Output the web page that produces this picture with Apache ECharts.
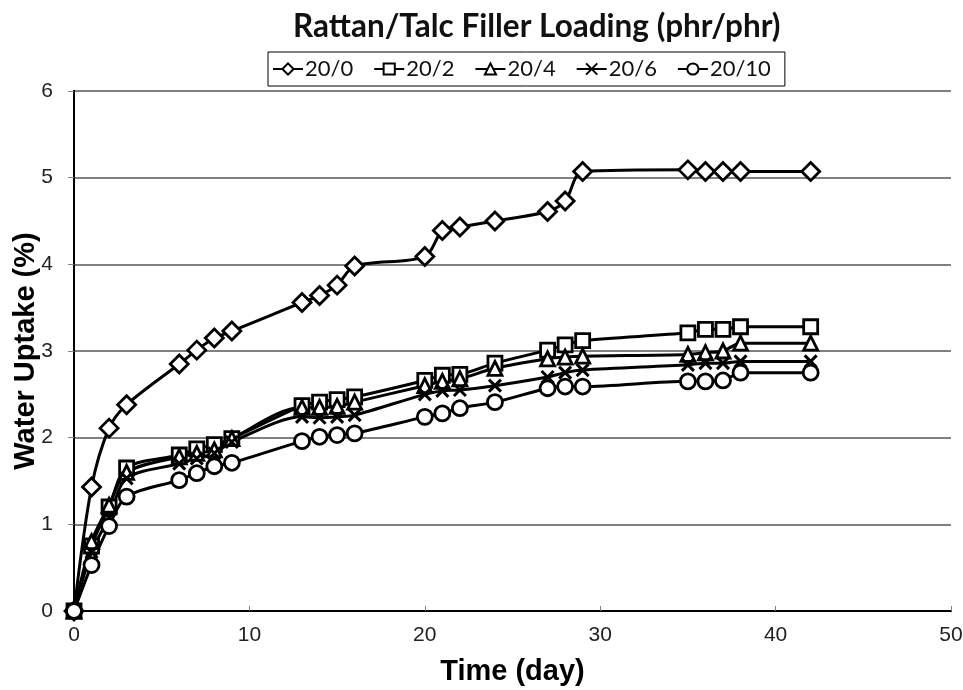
<!DOCTYPE html>
<html>
<head>
<meta charset="utf-8">
<title>Water uptake</title>
<script src="https://cdn.jsdelivr.net/npm/echarts@6/dist/echarts.min.js"></script>
<style>
  html, body { margin: 0; padding: 0; background: #fff; }
  #chart { width: 963px; height: 690px; }
</style>
</head>
<body>
<div id="chart"></div>
<script>
// time in days
const days = [0, 1, 2, 3, 6, 7, 8, 9, 13, 14, 15, 16, 20, 21, 22, 24, 27, 28, 29, 35, 36, 37, 38, 42]

// water uptake (%) for each rattan/talc loading
const load20_0 = [0, 1.43, 2.11, 2.38, 2.85, 3.01, 3.15, 3.23, 3.56, 3.64, 3.76, 3.98, 4.09, 4.39, 4.43, 4.50, 4.61, 4.73, 5.07, 5.09, 5.07, 5.07, 5.07, 5.07]
const load20_2 = [0, 0.75, 1.20, 1.65, 1.80, 1.87, 1.92, 1.99, 2.37, 2.41, 2.44, 2.47, 2.66, 2.72, 2.73, 2.86, 3.01, 3.07, 3.12, 3.21, 3.25, 3.25, 3.28, 3.28]
const load20_4 = [0, 0.80, 1.22, 1.60, 1.78, 1.82, 1.86, 1.99, 2.35, 2.35, 2.36, 2.41, 2.60, 2.65, 2.68, 2.80, 2.91, 2.93, 2.94, 2.96, 2.98, 3.00, 3.09, 3.09]
const load20_6 = [0, 0.68, 1.08, 1.53, 1.70, 1.76, 1.82, 1.95, 2.24, 2.23, 2.24, 2.26, 2.50, 2.54, 2.55, 2.60, 2.70, 2.75, 2.78, 2.84, 2.86, 2.86, 2.88, 2.88]
const load20_10 = [0, 0.53, 0.98, 1.32, 1.51, 1.59, 1.67, 1.71, 1.96, 2.01, 2.03, 2.05, 2.24, 2.28, 2.34, 2.41, 2.57, 2.59, 2.59, 2.65, 2.65, 2.66, 2.75, 2.75]

const seriesNames = ['20/0', '20/2', '20/4', '20/6', '20/10']
const seriesValues = [load20_0, load20_2, load20_4, load20_6, load20_10]

const xTicks = [0, 10, 20, 30, 40, 50]
const yTicks = [0, 1, 2, 3, 4, 5, 6]

// marker per series
const crossPath = 'path://M0,0L10,10M10,0L0,10'
const markers = [
  { symbol: 'diamond', size: 18 },
  { symbol: 'rect', size: 14 },
  { symbol: 'triangle', size: 14 },
  { symbol: crossPath, size: 12 },
  { symbol: 'circle', size: 15 }
]

const tickFont = "'Liberation Sans Narrow', 'Liberation Sans', Arial, sans-serif"
const nameFont = "'Liberation Sans', Arial, sans-serif"

const chart = echarts.init(document.getElementById('chart'))

const series = seriesNames.map((name, i) => {
  const isCross = markers[i].symbol === crossPath
  return {
    name,
    type: 'line',
    data: days.map((d, j) => [d, seriesValues[i][j]]),
    smooth: 0.3,
    symbol: markers[i].symbol,
    symbolSize: markers[i].size,
    showAllSymbol: true,
    lineStyle: { color: '#000', width: 3 },
    itemStyle: {
      color: isCross ? '#000' : '#fff',
      borderColor: '#000',
      borderWidth: isCross ? 3 : 2.8
    },
    emphasis: { disabled: true }
  }
})

const option = {
  backgroundColor: '#fff',
  animation: false,
  title: {
    text: 'Rattan/Talc Filler Loading (phr/phr)',
    left: 288,
    top: 6,
    textStyle: {
      fontFamily: 'Lato',
      fontWeight: 'bold',
      fontSize: 31.5,
      color: '#111'
    }
  },
  legend: {
    data: seriesNames,
    left: 268,
    top: 52,
    borderColor: '#000',
    borderWidth: 1,
    padding: [6, 14, 6, 4],
    itemGap: 20,
    itemWidth: 30,
    itemHeight: 14,
    textStyle: { fontFamily: 'Lato', fontSize: 22, color: '#111', padding: [0, 0, 0, -3] }
  },
  grid: { left: 74, right: 12, top: 91, bottom: 79, outerBoundsMode: 'none' },
  xAxis: [
    {
      type: 'value',
      min: xTicks[0],
      max: xTicks[xTicks.length - 1],
      interval: 10,
      name: 'Time (day)',
      nameLocation: 'middle',
      nameGap: 46,
      nameMoveOverlap: false,
      nameTextStyle: { fontFamily: nameFont, fontWeight: 'bold', fontSize: 29, color: '#000' },
      axisLine: { lineStyle: { color: '#808080', width: 2 } },
      axisTick: { inside: true, length: 5, lineStyle: { color: '#808080' } },
      axisLabel: { fontFamily: tickFont, fontSize: 21, color: '#222', margin: 14 },
      splitLine: { show: false }
    },
    {
      type: 'value',
      position: 'top',
      min: xTicks[0],
      max: xTicks[xTicks.length - 1],
      axisLine: { show: true, lineStyle: { color: '#000', width: 2 } },
      axisTick: { show: false },
      axisLabel: { show: false },
      splitLine: { show: false }
    }
  ],
  yAxis: [
    {
      type: 'value',
      min: yTicks[0],
      max: yTicks[yTicks.length - 1],
      interval: 1,
      name: 'Water Uptake (%)',
      nameLocation: 'middle',
      nameGap: 34,
      nameMoveOverlap: false,
      nameTextStyle: { fontFamily: nameFont, fontWeight: 'bold', fontSize: 29, color: '#000' },
      axisLine: { show: true, lineStyle: { color: '#000', width: 2 } },
      axisTick: { show: true, length: 6, lineStyle: { color: '#808080' } },
      axisLabel: { fontFamily: tickFont, fontSize: 21, color: '#222', margin: 21 },
      splitLine: { show: true, lineStyle: { color: '#808080', width: 1.8 } }
    },
    {
      type: 'value',
      position: 'right',
      min: yTicks[0],
      max: yTicks[yTicks.length - 1],
      axisLine: { show: true, lineStyle: { color: '#000', width: 2 } },
      axisTick: { show: false },
      axisLabel: { show: false },
      splitLine: { show: false }
    }
  ],
  series
}

chart.setOption(option)
</script>
</body>
</html>
